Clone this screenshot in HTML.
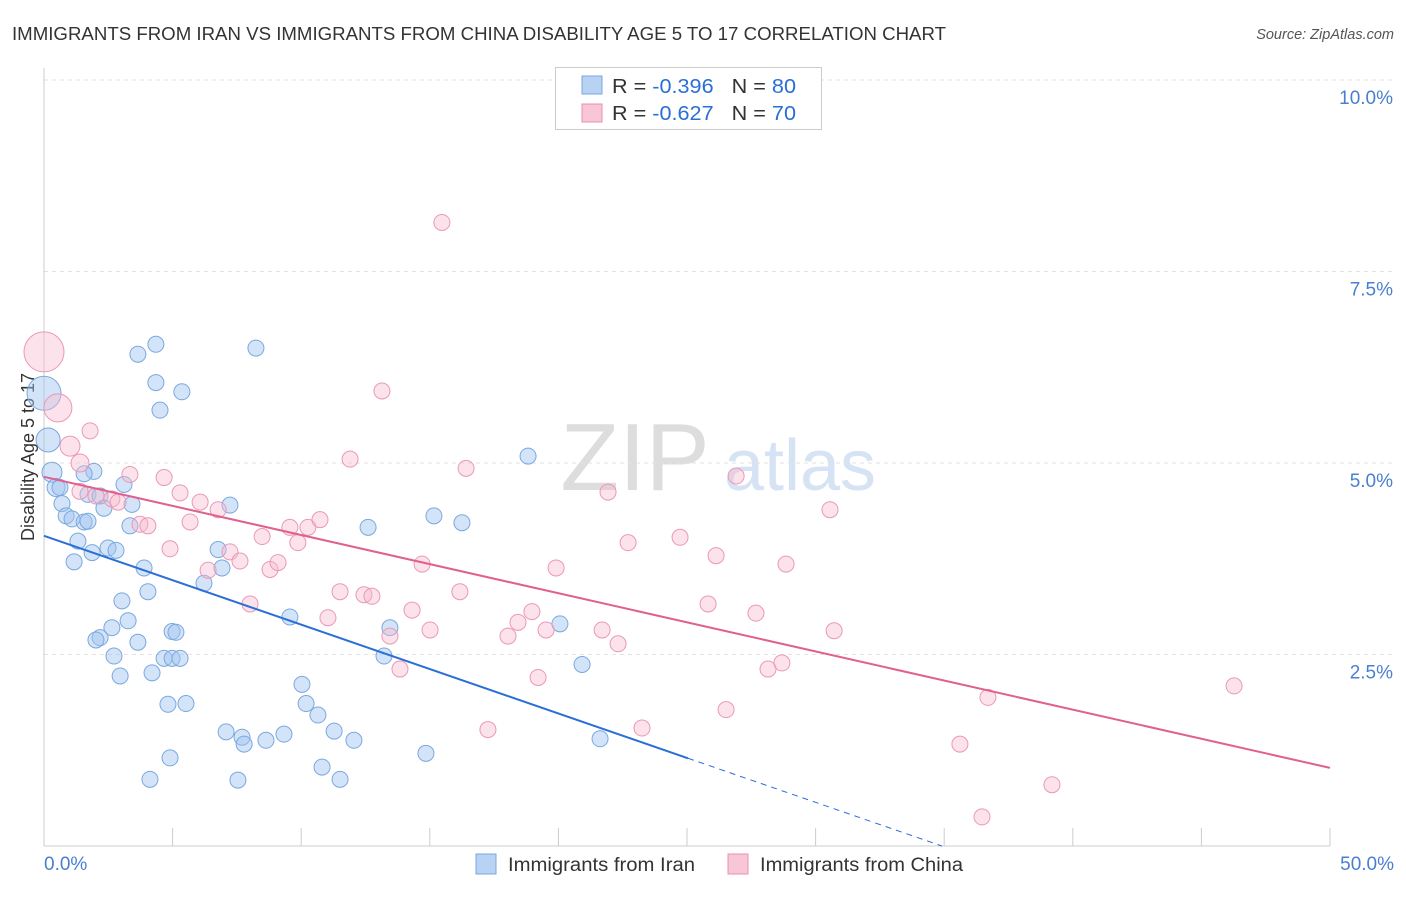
<!DOCTYPE html>
<html><head><meta charset="utf-8"><style>
body{margin:0;background:#fff;font-family:"Liberation Sans",sans-serif;}
svg text{font-family:"Liberation Sans",sans-serif;}
</style></head><body>
<svg id="chart" width="1406" height="892" xmlns="http://www.w3.org/2000/svg">
<text x="12" y="40" font-size="18" fill="#333" textLength="934" lengthAdjust="spacingAndGlyphs">IMMIGRANTS FROM IRAN VS IMMIGRANTS FROM CHINA DISABILITY AGE 5 TO 17 CORRELATION CHART</text>
<text x="1394" y="39" font-size="14.5" fill="#555" font-style="italic" text-anchor="end">Source: ZipAtlas.com</text>
<text x="635" y="490" font-size="96" fill="#ddd" font-family="Liberation Serif" text-anchor="middle">ZIP</text>
<text x="800" y="490" font-size="72" fill="#d6e3f4" text-anchor="middle">atlas</text>
<text transform="translate(34,457) rotate(-90)" font-size="18" fill="#333" text-anchor="middle">Disability Age 5 to 17</text>
<g id="grid"></g><g id="axes"></g><g id="pts"></g><g id="lines"></g>
<g>
<rect x="555.5" y="67.5" width="266" height="62" fill="#fff" stroke="#ccc"/>
<rect x="582" y="76" width="20" height="18" fill="#b8d2f4" stroke="#7aa8e0"/>
<rect x="582" y="104" width="20" height="18" fill="#f9c6d5" stroke="#e890b0"/>
<text x="612" y="93" font-size="20" fill="#333" textLength="184" lengthAdjust="spacingAndGlyphs">R = <tspan fill="#2a6fd6">-0.396</tspan>&#160;&#160;&#160;N = <tspan fill="#2a6fd6">80</tspan></text>
<text x="612" y="120" font-size="20" fill="#333" textLength="184" lengthAdjust="spacingAndGlyphs">R = <tspan fill="#2a6fd6">-0.627</tspan>&#160;&#160;&#160;N = <tspan fill="#2a6fd6">70</tspan></text>
</g>
<g>
<rect x="476" y="854" width="20" height="20" fill="#b8d2f4" stroke="#7aa8e0"/>
<text x="508" y="871" font-size="19" fill="#333" textLength="187" lengthAdjust="spacingAndGlyphs">Immigrants from Iran</text>
<rect x="728" y="854" width="20" height="20" fill="#f9c6d5" stroke="#e890b0"/>
<text x="760" y="871" font-size="19" fill="#333" textLength="203" lengthAdjust="spacingAndGlyphs">Immigrants from China</text>
</g>
</svg>
<script>
const yTicks=[2.5,5,7.5,10];
const yTickLabels=["2.5%","5.0%","7.5%","10.0%"];
const xTickLabels=["0.0%","50.0%"];
const iranX=[0,0.16,0.31,0.47,0.62,0.70,0.86,1.09,1.56,1.71,1.94,1.56,1.71,2.18,2.33,3.11,3.42,3.34,1.32,1.87,1.17,2.49,2.80,3.89,4.04,3.03,3.27,2.64,2.18,2.02,3.65,2.72,2.96,4.20,4.67,4.98,5.29,4.98,5.13,4.82,5.52,4.90,4.12,3.65,4.35,4.35,4.51,5.36,8.24,6.77,6.92,6.22,7.23,7.08,7.70,7.78,7.54,8.63,9.33,9.56,10.03,10.19,10.65,11.28,12.05,10.81,11.51,14.85,13.22,13.45,12.60,15.16,16.25,18.82,20.06,20.92,21.62];
const iranY=[5.91,5.30,4.88,4.68,4.68,4.47,4.31,4.27,4.23,4.24,4.89,4.86,4.59,4.57,4.41,4.72,4.46,4.18,3.98,3.83,3.71,3.89,3.86,3.63,3.32,3.20,2.94,2.85,2.72,2.69,2.66,2.48,2.22,2.26,2.45,2.45,2.45,2.80,2.79,1.85,1.86,1.15,0.87,6.42,6.55,6.05,5.69,5.93,6.50,3.87,3.63,3.43,4.45,1.49,1.42,1.33,0.86,1.38,1.46,2.99,2.11,1.86,1.71,1.50,1.38,1.03,0.87,1.21,2.48,2.85,4.16,4.31,4.22,5.09,2.90,2.37,1.40];
const iranR=[17,12,10,9,8,8,8,8,8,8,8,8,8,8,8,8,8,8,8,8,8,8,8,8,8,8,8,8,8,8,8,8,8,8,8,8,8,8,8,8,8,8,8,8,8,8,8,8,8,8,8,8,8,8,8,8,8,8,8,8,8,8,8,8,8,8,8,8,8,8,8,8,8,8,8,8,8];
const chinaX=[0,0.54,1.01,1.40,1.79,1.40,2.02,2.64,2.88,3.34,3.73,4.04,4.67,4.90,5.29,5.68,6.07,6.38,6.77,7.23,7.62,8.01,8.48,8.79,9.10,9.56,9.87,10.26,10.73,11.51,11.04,11.90,12.44,12.75,13.14,13.45,13.84,14.31,14.70,15.01,15.47,16.41,16.17,17.26,18.04,18.43,18.97,19.21,19.52,19.91,21.70,21.93,22.32,22.71,23.25,24.73,25.82,26.13,26.52,26.91,27.68,28.15,28.69,28.85,30.56,30.72,35.61,36.47,36.70,39.19,46.27];
const chinaY=[6.45,5.72,5.22,5.00,5.42,4.63,4.57,4.53,4.49,4.85,4.20,4.18,4.81,3.88,4.61,4.23,4.49,3.60,4.39,3.84,3.72,3.16,4.04,3.61,3.70,4.16,3.96,4.16,4.26,3.32,2.98,5.05,3.28,3.26,5.94,2.74,2.31,3.08,3.68,2.82,8.14,4.93,3.32,1.52,2.74,2.92,3.06,2.20,2.82,3.63,2.82,4.62,2.64,3.96,1.54,4.03,3.16,3.79,1.78,4.83,3.04,2.31,2.39,3.68,4.39,2.81,1.33,0.38,1.94,0.80,2.09];
const chinaR=[20,14,10,9,8,8,8,8,8,8,8,8,8,8,8,8,8,8,8,8,8,8,8,8,8,8,8,8,8,8,8,8,8,8,8,8,8,8,8,8,8,8,8,8,8,8,8,8,8,8,8,8,8,8,8,8,8,8,8,8,8,8,8,8,8,8,8,8,8,8,8];
const iranLine=[4.05,-1.75]; // values at x=0% and x=50%
const iranSolidEnd=[25.04];
const chinaLine=[4.82,1.02];
const X0=44,X1=1330,Y0=846,PXPER=76.6;
const sx=v=>X0+(v/50)*(X1-X0);
const sy=v=>Y0-v*PXPER;
const NS="http://www.w3.org/2000/svg";
function mk(tag,attrs,parent){const e=document.createElementNS(NS,tag);for(const k in attrs)e.setAttribute(k,attrs[k]);parent.appendChild(e);return e;}
const grid=document.getElementById('grid'),axes=document.getElementById('axes'),pts=document.getElementById('pts'),lines=document.getElementById('lines');
yTicks.forEach((t,i)=>{
 const g=mk('line',{x1:X0,x2:1394,y1:sy(t),y2:sy(t),stroke:'#e2e2e2','stroke-dasharray':'4,4'},grid);
 
 
 const tx=mk('text',{x:1393,y:sy(t)+24,'font-size':19,fill:'#4a7fd0','text-anchor':'end'},grid);
 tx.textContent=yTickLabels[i];
 
 
});
const ax=mk('line',{x1:X0,x2:X0,y1:68,y2:Y0,stroke:'#ccc'},axes);


const bx=mk('line',{x1:X0,x2:X1,y1:Y0,y2:Y0,stroke:'#ccc'},axes);


for(let i=0;i<=10;i++){const tk=mk('line',{x1:sx(i*5),x2:sx(i*5),y1:828,y2:Y0,stroke:'#ccc'},axes);
 
 }
[[0,'start',44],[50,'end',1394]].forEach((d,i)=>{const t=mk('text',{x:d[2],y:870,'font-size':19,fill:'#4a7fd0','text-anchor':d[1]},axes);t.textContent=xTickLabels[i];
 
 });
iranX.forEach((x,i)=>{const c=mk('circle',{cx:sx(x),cy:sy(iranY[i]),r:iranR[i],fill:'rgba(160,196,240,0.45)',stroke:'#7aa8e0','stroke-width':1},pts);
 
 });
chinaX.forEach((x,i)=>{const c=mk('circle',{cx:sx(x),cy:sy(chinaY[i]),r:chinaR[i],fill:'rgba(247,186,205,0.4)',stroke:'#eb98b6','stroke-width':1},pts);
 
 });
const iv=x=>iranLine[0]+(iranLine[1]-iranLine[0])*x/50;
const l1=mk('line',{x1:sx(0),y1:sy(iv(0)),x2:sx(iranSolidEnd[0]),y2:sy(iv(iranSolidEnd[0])),stroke:'#2a6fd6','stroke-width':2},lines);


const xz=50*iranLine[0]/(iranLine[0]-iranLine[1]);
const l2=mk('line',{x1:sx(iranSolidEnd[0]),y1:sy(iv(iranSolidEnd[0])),x2:sx(xz),y2:sy(0),stroke:'#2a6fd6','stroke-width':1,'stroke-dasharray':'6,5'},lines);


const l3=mk('line',{x1:sx(0),y1:sy(chinaLine[0]),x2:sx(50),y2:sy(chinaLine[1]),stroke:'#e0608f','stroke-width':2},lines);


</script>
</body></html>
